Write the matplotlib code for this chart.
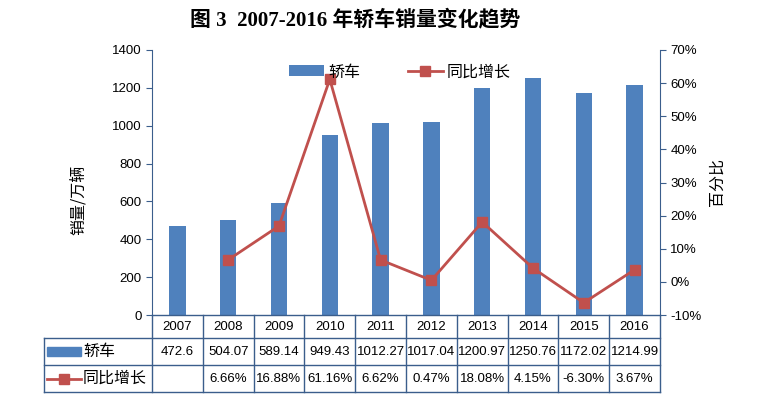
import matplotlib.pyplot as plt
import numpy as np
from matplotlib.ticker import FuncFormatter

plt.rcParams['font.family'] = ['Liberation Sans', 'Noto Sans CJK SC', 'DejaVu Sans']

# data
years = ['2007', '2008', '2009', '2010', '2011', '2012', '2013', '2014', '2015', '2016']
sales = [472.6, 504.07, 589.14, 949.43, 1012.27, 1017.04, 1200.97, 1250.76, 1172.02, 1214.99]
growth = [np.nan, 6.66, 16.88, 61.16, 6.62, 0.47, 18.08, 4.15, -6.30, 3.67]
sales_labels = ['472.6', '504.07', '589.14', '949.43', '1012.27', '1017.04',
                '1200.97', '1250.76', '1172.02', '1214.99']
growth_labels = ['', '6.66%', '16.88%', '61.16%', '6.62%', '0.47%',
                 '18.08%', '4.15%', '-6.30%', '3.67%']

bar_color = '#4F81BD'
line_color = '#C0504D'
frame_color = '#3B5E8C'
cjk = ['Noto Sans CJK SC', 'DejaVu Sans']

fig = plt.figure(figsize=(7.65, 4.07), dpi=100)
ax = fig.add_axes([152 / 765, 1 - 315 / 407, 508 / 765, 265 / 407])
x = np.arange(len(years))

ax.bar(x, sales, width=0.32, color=bar_color, label='轿车', zorder=2)
ax.set_xlim(-0.5, len(years) - 0.5)
ax.set_ylim(0, 1400)
ax.set_yticks(range(0, 1401, 200))
ax.set_xticks([])
ax.tick_params(axis='y', direction='out', length=4, color=frame_color, labelsize=9.5)
for s in ['top', 'bottom']:
    ax.spines[s].set_visible(False)
ax.spines['left'].set_color(frame_color)
ax.spines['right'].set_visible(False)
ax.set_ylabel('销量/万辆', family=cjk, fontsize=11.5)
ax.yaxis.set_label_coords(-0.128, 0.435)

ax2 = ax.twinx()
ax2.plot(x, np.array(growth), color=line_color, lw=2, marker='s', markersize=7,
         label='同比增长', zorder=3)
ax2.set_ylim(-10, 70)
ax2.set_yticks(range(-10, 71, 10))
ax2.yaxis.set_major_formatter(FuncFormatter(lambda v, p: f'{v:.0f}%'))
ax2.tick_params(axis='y', direction='out', length=4, color=frame_color, labelsize=9.5)
for s in ['top', 'bottom', 'left']:
    ax2.spines[s].set_visible(False)
ax2.spines['right'].set_color(frame_color)
ax2.set_ylabel('百分比', family=cjk, fontsize=11.5, rotation=90)
ax2.yaxis.set_label_coords(1.096, 0.5)

# legend inside plot
h1, l1 = ax.get_legend_handles_labels()
h2, l2 = ax2.get_legend_handles_labels()
leg = ax2.legend(h1 + h2, l1 + l2, loc='center', bbox_to_anchor=(0.488, 0.917), ncol=2,
                 frameon=False, prop={'family': cjk, 'size': 11.5}, handlelength=2.2,
                 columnspacing=3.0, handletextpad=0.25)

# data table under the plot
tr = ax.get_xaxis_transform()
rows_y = [0, -0.0868, -0.1887, -0.2906]
left_x = -0.5 - 108 / 50.8
right_x = len(years) - 0.5
lk = dict(color=frame_color, lw=1, transform=tr, clip_on=False)
ax.plot([-0.5, right_x], [rows_y[0]] * 2, **lk)
for yy in rows_y[1:]:
    ax.plot([left_x, right_x], [yy] * 2, **lk)
for i in range(len(years) + 1):
    ax.plot([i - 0.5] * 2, [rows_y[0], rows_y[3]], **lk)
ax.plot([left_x] * 2, [rows_y[1], rows_y[3]], **lk)

def mid(a, b):
    return (a + b) / 2

for i in range(len(years)):
    ax.text(i, mid(rows_y[0], rows_y[1]), years[i], transform=tr, ha='center', va='center', fontsize=9.5)
    ax.text(i, mid(rows_y[1], rows_y[2]), sales_labels[i], transform=tr, ha='center', va='center', fontsize=9.5)
    ax.text(i, mid(rows_y[2], rows_y[3]), growth_labels[i], transform=tr, ha='center', va='center', fontsize=9.5)

# row keys
px = 1 / 50.8
y1 = mid(rows_y[1], rows_y[2])
y2 = mid(rows_y[2], rows_y[3])
ax.add_patch(plt.Rectangle((left_x + 3 * px, y1 - 0.016), 34 * px, 0.032, color=bar_color,
                           transform=tr, clip_on=False))
ax.text(left_x + 39 * px, y1, '轿车', transform=tr, family=cjk, fontsize=11.5, va='center')
ax.plot([left_x + 3 * px, left_x + 37 * px], [y2, y2], color=line_color, lw=2,
        transform=tr, clip_on=False)
ax.plot([left_x + 20 * px], [y2], color=line_color, marker='s', markersize=7,
        transform=tr, clip_on=False)
ax.text(left_x + 39 * px, y2, '同比增长', transform=tr, family=cjk, fontsize=11.5, va='center')

fig.text(0.464, 0.951, '图 3  2007-2016 年轿车销量变化趋势', ha='center', va='center',
         fontsize=15, fontweight='bold', family=['Liberation Serif', 'Noto Sans CJK SC'])

fig.savefig('out.png', dpi=100)
